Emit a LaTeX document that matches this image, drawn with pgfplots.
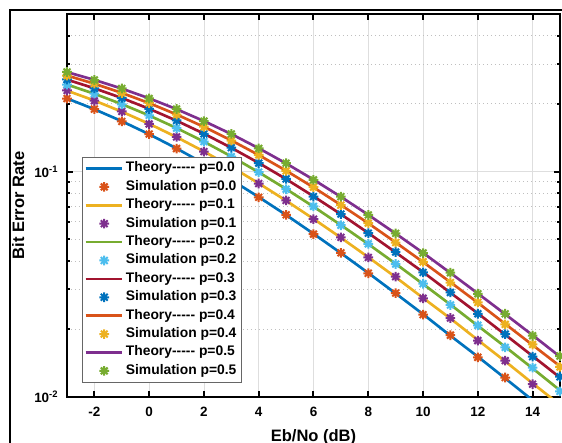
\documentclass[border=0pt]{standalone}
\usepackage{fontspec}
\setmainfont{Liberation Sans}
\usepackage{pgfplots}
\usepackage{pgfplotstable}
\pgfplotsset{compat=1.18}

% MATLAB default colour order
\definecolor{mblue}{RGB}{0,114,189}
\definecolor{morange}{RGB}{217,83,25}
\definecolor{myellow}{RGB}{237,177,32}
\definecolor{mpurple}{RGB}{126,47,142}
\definecolor{mgreen}{RGB}{119,172,48}
\definecolor{mcyan}{RGB}{77,190,238}
\definecolor{mred}{RGB}{162,20,47}

% MATLAB '*' marker (+ and x together)
\pgfdeclareplotmark{mstar}{%
  \pgfpathmoveto{\pgfqpoint{-\pgfplotmarksize}{0pt}}%
  \pgfpathlineto{\pgfqpoint{\pgfplotmarksize}{0pt}}%
  \pgfpathmoveto{\pgfqpoint{0pt}{-\pgfplotmarksize}}%
  \pgfpathlineto{\pgfqpoint{0pt}{\pgfplotmarksize}}%
  \pgfpathmoveto{\pgfqpoint{-.7071\pgfplotmarksize}{-.7071\pgfplotmarksize}}%
  \pgfpathlineto{\pgfqpoint{.7071\pgfplotmarksize}{.7071\pgfplotmarksize}}%
  \pgfpathmoveto{\pgfqpoint{-.7071\pgfplotmarksize}{.7071\pgfplotmarksize}}%
  \pgfpathlineto{\pgfqpoint{.7071\pgfplotmarksize}{-.7071\pgfplotmarksize}}%
  \pgfusepathqstroke}

\newcommand{\dd}{-{}-{}-{}-{}-}
\newcommand{\tfnt}{\bfseries\fontsize{10.1}{12}\selectfont}
\newcommand{\lfnt}{\bfseries\fontsize{10.4}{12}\selectfont}
\newcommand{\afnt}{\bfseries\fontsize{12.4}{14}\selectfont}

% x, theory (t) and simulation (s) for p = 0.0 ... 0.5
\pgfplotstableread{
x   t0      s0     t1      s1     t2     s2     t3     s3     t4     s4     t5     s5
-3  0.2111  0.2108 0.2286  0.2290 0.2433 0.2430 0.2558 0.2562 0.2667 0.2664 0.2762 0.2766
-2  0.1890  0.1893 0.2065  0.2062 0.2213 0.2217 0.2341 0.2338 0.2453 0.2456 0.2551 0.2548
-1  0.1673  0.1669 0.1844  0.1848 0.1992 0.1989 0.2120 0.2123 0.2233 0.2230 0.2334 0.2337
0   0.1464  0.1466 0.1629  0.1626 0.1773 0.1776 0.1899 0.1896 0.2012 0.2015 0.2113 0.2110
1   0.1267  0.1265 0.1422  0.1425 0.1560 0.1557 0.1682 0.1685 0.1792 0.1789 0.1892 0.1895
2   0.1085  0.1083 0.1228  0.1226 0.1357 0.1359 0.1473 0.1471 0.1579 0.1581 0.1675 0.1673
3   0.0919  0.0921 0.1049  0.1052 0.1167 0.1165 0.1275 0.1277 0.1375 0.1373 0.1467 0.1469
4   0.0771  0.0769 0.0887  0.0885 0.0993 0.0995 0.1092 0.1090 0.1184 0.1186 0.1269 0.1267
5   0.0642  0.0643 0.0743  0.0745 0.0837 0.0835 0.0926 0.0928 0.1009 0.1007 0.1087 0.1089
6   0.0530  0.0528 0.0617  0.0615 0.0699 0.0701 0.0777 0.0775 0.0851 0.0853 0.0921 0.0919
7   0.0435  0.0436 0.0509  0.0511 0.0579 0.0578 0.0647 0.0648 0.0711 0.0710 0.0773 0.0774
8   0.0355  0.0354 0.0417  0.0416 0.0477 0.0478 0.0534 0.0533 0.0590 0.0591 0.0643 0.0642
9   0.0288  0.0289 0.0340  0.0342 0.0390 0.0389 0.0438 0.0440 0.0485 0.0484 0.0531 0.0532
10  0.0233  0.0232 0.0275  0.0274 0.0317 0.0318 0.0358 0.0357 0.0397 0.0398 0.0436 0.0435
11  0.0187  0.0188 0.0223  0.0224 0.0257 0.0256 0.0290 0.0291 0.0323 0.0322 0.0355 0.0356
12  0.0151  0.0150 0.0179  0.0178 0.0207 0.0208 0.0235 0.0234 0.0262 0.0263 0.0288 0.0287
13  0.0121  0.0122 0.0144  0.0145 0.0167 0.0166 0.0189 0.0190 0.0211 0.0210 0.0233 0.0234
14  0.00967 0.0096 0.0115  0.0114 0.0134 0.0135 0.0152 0.0151 0.0170 0.0171 0.0188 0.0187
15  0.00772 0.0077 0.00923 0.0092 0.0107 0.0106 0.0122 0.0123 0.0137 0.0136 0.0151 0.0152
}\ber

\pgfplotsset{
  theory/.style={line width=2pt, no markers,
    legend image code/.code={\draw[##1] (0pt,0pt) -- (27pt,0pt);}},
  sim/.style={only marks, mark=mstar, mark size=3.6pt,
    mark options={line width=1.5pt},
    legend image code/.code={\path (0pt,0pt) (27pt,0pt);
      \draw[##1] plot coordinates {(14pt,0pt)};}},
}

\begin{document}
\begin{tikzpicture}
\begin{axis}[
  at={(0pt,0pt)}, anchor=south west,
  scale only axis, width=369.75pt, height=287.25pt,
  ymode=log,
  xmin=-3, xmax=15, ymin=0.01, ymax=0.5,
  xtick={-2,0,...,14},
  xticklabels={\textbf{-2},\textbf{0},\textbf{2},\textbf{4},\textbf{6},
    \textbf{8},\textbf{10},\textbf{12},\textbf{14}},
  ytick={0.01,0.1},
  yticklabels={\textbf{10\textsuperscript{-2}},\textbf{10\textsuperscript{-1}}},
  minor ytick={0.02,0.03,0.04,0.05,0.06,0.07,0.08,0.09,0.2,0.3,0.4},
  grid=both,
  major grid style={solid, color=black!13, line width=0.6pt},
  minor grid style={color=black!25, line width=0.6pt,
    dash pattern=on 0.6pt off 2.4pt},
  axis line style={line width=2pt},
  major tick length=4.5pt, minor tick length=2.5pt,
  every tick/.style={black, line width=1.5pt},
  tick label style={font=\tfnt},
  xticklabel style={yshift=-4pt},
  yticklabel style={xshift=-3pt},
  xlabel={Eb/No (dB)},
  ylabel={Bit Error Rate},
  every axis x label/.style={at={(axis description cs:0.5,-0.1044)},
    anchor=center, font=\afnt},
  every axis y label/.style={at={(axis description cs:-0.0988,0.5)},
    anchor=center, rotate=90, font=\afnt},
  legend cell align=left,
  legend style={at={(0.0304,0.6266)}, anchor=north west,
    draw=black!60, thin, fill=white, font=\lfnt,
    inner sep=1.5pt,
    nodes={text height=7.2pt, text depth=2.2pt, inner sep=2.2pt}},
]
\addplot[theory, mblue]   table[x=x, y=t0] {\ber};
\addlegendentry{Theory\dd\ p=0.0}
\addplot[sim, morange]    table[x=x, y=s0] {\ber};
\addlegendentry{Simulation p=0.0}
\addplot[theory, myellow] table[x=x, y=t1] {\ber};
\addlegendentry{Theory\dd\ p=0.1}
\addplot[sim, mpurple]    table[x=x, y=s1] {\ber};
\addlegendentry{Simulation p=0.1}
\addplot[theory, mgreen]  table[x=x, y=t2] {\ber};
\addlegendentry{Theory\dd\ p=0.2}
\addplot[sim, mcyan]      table[x=x, y=s2] {\ber};
\addlegendentry{Simulation p=0.2}
\addplot[theory, mred]    table[x=x, y=t3] {\ber};
\addlegendentry{Theory\dd\ p=0.3}
\addplot[sim, mblue]      table[x=x, y=s3] {\ber};
\addlegendentry{Simulation p=0.3}
\addplot[theory, morange] table[x=x, y=t4] {\ber};
\addlegendentry{Theory\dd\ p=0.4}
\addplot[sim, myellow]    table[x=x, y=s4] {\ber};
\addlegendentry{Simulation p=0.4}
\addplot[theory, mpurple] table[x=x, y=t5] {\ber};
\addlegendentry{Theory\dd\ p=0.5}
\addplot[sim, mgreen]     table[x=x, y=s5] {\ber};
\addlegendentry{Simulation p=0.5}
\end{axis}
% figure frame, cut by the crop on the right and at the bottom
\draw[line width=1.5pt] (-42.75pt,-60pt) -- (-42.75pt,290.25pt) -- (400pt,290.25pt);
\pgfresetboundingbox
\useasboundingbox (-50.25pt,-34.5pt) rectangle (371.25pt,297.75pt);
\end{tikzpicture}
\end{document}
